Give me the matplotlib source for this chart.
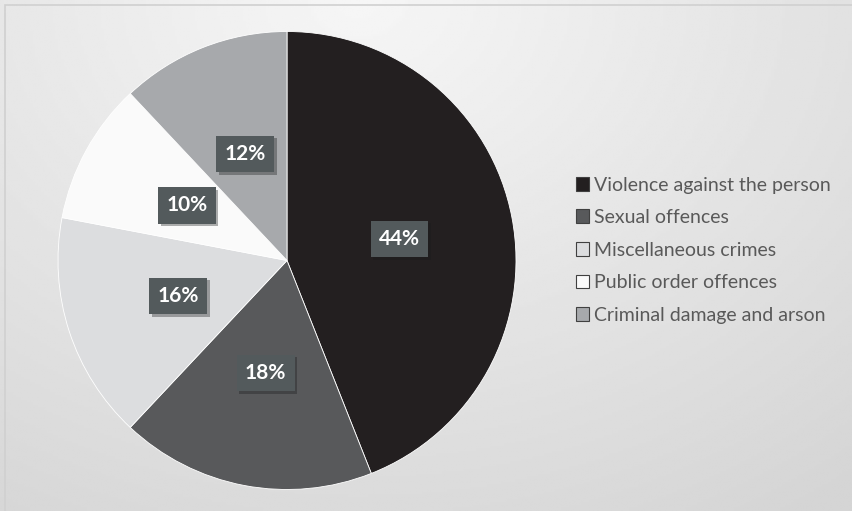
import numpy as np
import matplotlib
matplotlib.use('Agg')
import matplotlib.pyplot as plt
from matplotlib.patches import Patch, Rectangle
import matplotlib.patheffects as pe

# data
categories = ['Violence against the person', 'Sexual offences', 'Miscellaneous crimes',
              'Public order offences', 'Criminal damage and arson']
shares = [44, 18, 16, 10, 12]
colours = ['#231f20', '#58595b', '#dcdddf', '#fafafa', '#a7a9ac']

W, H = 852, 511
fig = plt.figure(figsize=(W / 100, H / 100), dpi=100)

# background gradient (light near top, greyer toward edges)
bg = fig.add_axes([0, 0, 1, 1], zorder=0)
yy, xx = np.mgrid[0:1:200j, 0:1:300j]
d = np.sqrt(((xx - 0.42) * 1.3) ** 2 + ((yy - 0.0) * 1.0) ** 2)
shade = 0.965 - 0.13 * np.clip(d, 0, 1.2) / 1.2
bg.imshow(shade, cmap='gray', vmin=0, vmax=1, aspect='auto', extent=[0, 1, 0, 1], origin='upper')
bg.add_patch(Rectangle((5 / W, -0.1), 1.2, 1.1 - 5 / H, fill=False, edgecolor='#d0d0d0', lw=1.2,
                       transform=bg.transAxes))
bg.set_xlim(0, 1)
bg.set_ylim(0, 1)
bg.axis('off')

# pie
cx, cy, R = 287, 260.5, 229
ax = fig.add_axes([(cx - R) / W, (H - cy - R) / H, 2 * R / W, 2 * R / H], zorder=1)
wedges, texts, autotexts = ax.pie(shares, colors=colours, startangle=90, counterclock=False,
                                  radius=1, autopct='%d%%', pctdistance=0.5,
                                  wedgeprops=dict(edgecolor='white', linewidth=0.6),
                                  textprops=dict(color='white', fontsize=15, fontweight='bold',
                                                 family='Lato'))
ax.set_xlim(-1, 1)
ax.set_ylim(-1, 1)
ax.set_aspect('equal')
ax.axis('off')

for t in autotexts:
    t.set_bbox(dict(boxstyle='square,pad=0.4', facecolor='#535a5c', edgecolor='none'))
    t.get_bbox_patch().set_path_effects([pe.SimplePatchShadow(offset=(2, -2), alpha=0.35),
                                         pe.Normal()])

# legend
handles = [Patch(facecolor=c, edgecolor='#404040', linewidth=0.8) for c in colours]
fig.legend(handles, categories, loc='upper left', bbox_to_anchor=(558 / W, 1 - 159 / H),
           frameon=False, labelcolor='#595959', prop=dict(family='Lato', size=14),
           handlelength=0.7, handleheight=0.7, handletextpad=0.25, labelspacing=0.8)

fig.savefig('out.png', dpi=100)
